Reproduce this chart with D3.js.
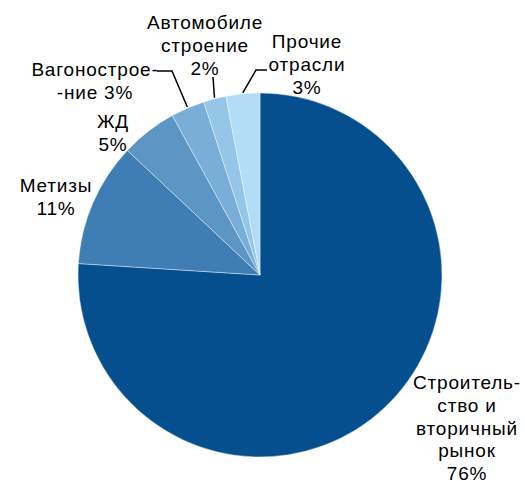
<!DOCTYPE html>
<html><head><meta charset="utf-8">
<script src="https://cdn.jsdelivr.net/npm/d3@7"></script>
<style>body{margin:0;background:#fff}svg text{font-family:"Liberation Sans",Arial,sans-serif;font-size:19px;fill:#000}</style>
</head><body>
<svg id="c" width="525" height="481"></svg>
<script>
const categories = ["Строитель-ство и вторичный рынок","Метизы","ЖД","Вагоностроение","Автомобилестроение","Прочие отрасли"];
const values = [76, 11, 5, 3, 2, 3];
const colors = ["#054F8F","#3F7EB4","#5B96C5","#78AED7","#95C5E7","#B3DDF6"];
const labelLines = [
  ["Строитель-","ство и","вторичный","рынок","76%"],
  ["Метизы","11%"],
  ["ЖД","5%"],
  ["Вагонострое-","-ние  3%"],
  ["Автомобиле","строение","2%"],
  ["Прочие","отрасли","3%"]
];
const labelPos = [[467,389],[56,192],[113,128],[95,76],[205,29],[307,48]];

const svg = d3.select("#c");
const cx = 260, cy = 275, r = 182;
const pie = d3.pie().sort(null).value(d=>d);
const arcs = pie(values);
const arc = d3.arc().innerRadius(0).outerRadius(r);
const g = svg.append("g").attr("transform",`translate(${cx},${cy})`);
g.selectAll("path").data(arcs).join("path")
  .attr("d",arc).attr("fill",(d,i)=>colors[i])
  .attr("stroke","#fff").attr("stroke-width",0.4);

// leader lines
const leaders = [
  {i:3, pts:[[157,71],[172,71]]},
  {i:4, pts:[[213,77]]},
  {i:5, pts:[[267,70],[256,70]]}
];
leaders.forEach(L=>{
  const a = arcs[L.i]; const mid=(a.startAngle+a.endAngle)/2;
  const end=[cx+Math.sin(mid)*(r+1), cy-Math.cos(mid)*(r+1)];
  const pts = L.pts.concat([end]);
  svg.append("path").attr("d",d3.line()(pts)).attr("fill","none").attr("stroke","#000").attr("stroke-width",1.5);
});

labelLines.forEach((lines,i)=>{
  const t = svg.append("text").attr("text-anchor","middle").style("letter-spacing","0.8px");
  lines.forEach((s,j)=>{
    t.append("tspan").attr("x",labelPos[i][0]).attr("y",labelPos[i][1]+j*22.8).text(s);
  });
});
</script>
</body></html>
